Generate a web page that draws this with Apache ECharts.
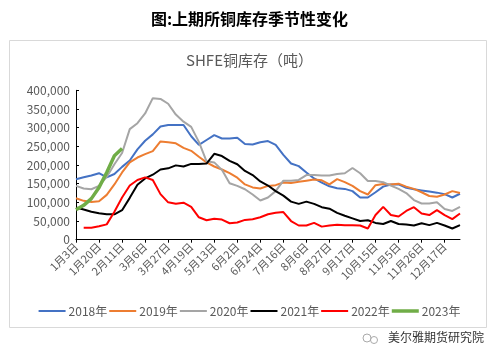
<!DOCTYPE html>
<html>
<head>
<meta charset="utf-8">
<script src="https://cdn.jsdelivr.net/npm/echarts@6/dist/echarts.min.js"></script>
<style>
html,body{margin:0;padding:0;background:#fff;}
#c{width:499px;height:359px;}
</style>
</head>
<body>
<div id="c"></div>
<script>
const categories = ['1月3日','1月6日','1月13日','1月20日','1月27日','2月3日','2月11日','2月17日','2月24日','3月6日','3月13日','3月20日','3月27日','4月3日','4月10日','4月19日','4月26日','5月6日','5月13日','5月20日','5月27日','6月2日','6月10日','6月17日','6月24日','7月1日','7月8日','7月16日','7月23日','7月30日','8月6日','8月13日','8月20日','8月27日','9月3日','9月10日','9月17日','9月24日','10月8日','10月15日','10月22日','10月29日','11月5日','11月12日','11月19日','11月26日','12月3日','12月10日','12月17日','12月24日','12月31日'];

const y2018 = [162000,167000,172000,178000,167000,176000,195000,212000,242000,265000,282000,303000,307000,307000,307000,277000,254000,267000,280000,271000,271000,273000,256000,255000,261000,264000,254000,227000,204000,197000,180000,164000,153000,143000,138000,136000,130000,113000,113000,127000,142000,148000,148000,139000,135000,132000,129000,126000,122000,113000,123000];
const y2019 = [111000,104000,101000,103000,120000,148000,180000,207000,220000,229000,237000,263000,261000,258000,246000,238000,222000,207000,196000,188000,178000,166000,148000,140000,137000,144000,146000,153000,152000,155000,158000,161000,159000,148000,162000,154000,144000,130000,121000,146000,149000,148000,150000,142000,136000,127000,117000,115000,121000,130000,125000];
const y2020 = [144000,137000,135000,144000,168000,202000,232000,296000,312000,338000,379000,377000,364000,335000,316000,302000,262000,210000,207000,187000,151000,144000,135000,121000,105000,113000,130000,158000,158000,160000,173000,173000,172000,172000,176000,178000,192000,178000,157000,157000,154000,145000,136000,125000,106000,97000,97000,100000,82000,77000,88000];
const y2021 = [86000,81000,75000,71000,68000,68000,79000,112000,147000,164000,174000,188000,191000,199000,196000,203000,203000,204000,230000,224000,211000,202000,184000,173000,156000,145000,130000,118000,102000,96000,102000,96000,87000,83000,72000,64000,57000,50000,52000,45000,42000,50000,42000,41000,38000,44000,39000,45000,38000,30000,39000];
const y2022 = [null,32000,32000,36000,41000,75000,113000,145000,160000,167000,160000,122000,100000,96000,99000,88000,60000,52000,56000,54000,44000,46000,53000,55000,60000,68000,72000,74000,50000,38000,38000,45000,35000,38000,40000,39000,39000,38000,30000,66000,88000,66000,62000,77000,87000,70000,66000,79000,66000,55000,70000];
const y2023 = [80000,92000,110000,140000,180000,225000,244000];

const seriesNames = ['2018年','2019年','2020年','2021年','2022年','2023年'];
const seriesData = [y2018,y2019,y2020,y2021,y2022,y2023];
const colors = ['#4472C4','#ED7D31','#A5A5A5','#000000','#FF0000','#70AD47'];
const widths = [2,2,2,2,2,3.5];

const FONT = '"Noto Sans CJK SC", "Noto Sans", sans-serif';
const chart = echarts.init(document.getElementById('c'), null, {renderer:'canvas'});

chart.setOption({
  animation: false,
  backgroundColor: '#fff',
  color: colors,
  title: [
    {text: '图:上期所铜库存季节性变化', left: 'center', top: 6,
     textStyle: {fontFamily: FONT, fontSize: 16, fontWeight: 'bold', color: '#000'}},
    {text: 'SHFE铜库存（吨）', left: 'center', top: 48,
     textStyle: {fontFamily: FONT, fontSize: 15, fontWeight: 'normal', color: '#595959'}}
  ],
  graphic: [
    {type: 'rect', shape: {x: 9.5, y: 40.5, width: 477, height: 287}, style: {fill: 'none', stroke: '#d9d9d9', lineWidth: 1}, z: -1},
    {type: 'text', left: 388, top: 331, style: {text: '美尔雅期货研究院', font: '12px ' + FONT, fill: '#333'}},
    {type: 'circle', shape: {cx: 367, cy: 338, r: 4}, style: {fill: 'none', stroke: '#aaa', lineWidth: 1}},
    {type: 'circle', shape: {cx: 374, cy: 340, r: 3.5}, style: {fill: 'none', stroke: '#aaa', lineWidth: 1}}
  ],
  legend: {
    data: seriesNames.map((n, k) => ({name: n, icon: 'path://M0,0h27v' + widths[k] + 'h-27z'})),
    top: 300,
    left: 'center',
    itemWidth: 27,
    itemHeight: 12,
    itemGap: 2,
    symbolKeepAspect: true,
    textStyle: {fontFamily: FONT, fontSize: 12, color: '#595959', padding: [0,0,0,-2]}
  },
  grid: {left: 76, right: 39, top: 90.3, bottom: 119.3, containLabel: false},
  xAxis: {
    type: 'category',
    data: categories,
    boundaryGap: false,
    axisLine: {show: true, lineStyle: {color: '#000', width: 1}},
    axisTick: {show: true, interval: 2, length: 3, inside: false, lineStyle: {color: '#000'}},
    axisLabel: {interval: 2, rotate: 45, fontFamily: FONT, fontSize: 11, color: '#595959', margin: 5}
  },
  yAxis: {
    type: 'value',
    min: 0, max: 400000, interval: 50000,
    axisLine: {show: true, lineStyle: {color: '#000', width: 1}},
    axisTick: {show: true, inside: true, length: 3, lineStyle: {color: '#000'}},
    splitLine: {show: false},
    axisLabel: {fontFamily: FONT, fontSize: 12, color: '#595959', margin: 6,
      formatter: v => v.toLocaleString('en-US')}
  },
  series: seriesNames.map((n, k) => ({
    name: n,
    type: 'line',
    data: seriesData[k],
    symbol: 'none',
    smooth: false,
    connectNulls: false,
    lineStyle: {color: colors[k], width: widths[k]},
    itemStyle: {color: colors[k]},
    z: k === 5 ? 10 : 2 + k
  }))
});
</script>
</body>
</html>
